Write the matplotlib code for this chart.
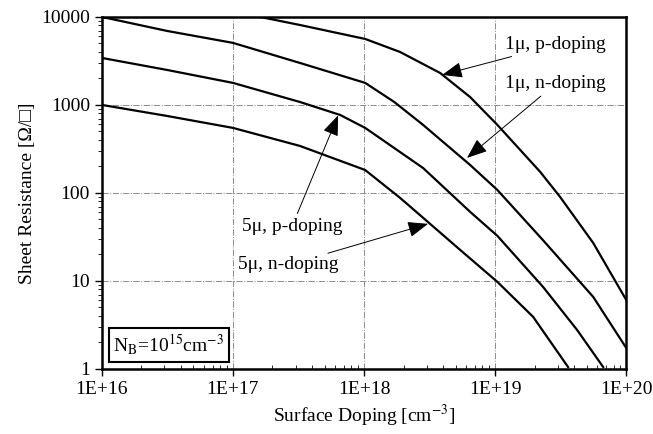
import matplotlib
matplotlib.use("Agg")
import matplotlib.pyplot as plt
from matplotlib.ticker import FixedLocator, LogLocator, NullFormatter

plt.rcParams['font.family'] = ['Liberation Serif', 'DejaVu Serif']
plt.rcParams['mathtext.fontset'] = 'stix'

# values (doping in cm^-3, resistance in ohm/sq)
p1_doping = [1.61e17, 3.24e17, 1.02e18, 1.88e18, 3.8e18, 6.44e18, 1.04e19, 2.21e19, 3.13e19, 5.6e19, 1.0e20]
p1_res = [10000, 8100, 5620, 4000, 2310, 1230, 593, 173, 90, 27, 6.08]

n1_doping = [1.0e16, 3.13e16, 1.0e17, 3.24e17, 1.02e18, 1.7e18, 2.82e18, 6.44e18, 1.04e19, 2.32e19, 5.6e19, 1.0e20]
n1_res = [10000, 6940, 5070, 3000, 1780, 1080, 593, 208, 108, 29, 6.58, 1.73]

p5_doping = [1.0e16, 3.13e16, 1.0e17, 3.24e17, 6.56e17, 1.02e18, 2.82e18, 6.44e18, 1.04e19, 2.32e19, 4.22e19, 6.67e19]
p5_res = [3420, 2500, 1780, 1080, 770, 548, 192, 61, 32.5, 8.55, 2.77, 1.05]

n5_doping = [1.0e16, 3.13e16, 1.0e17, 3.24e17, 1.02e18, 1.88e18, 2.67e18, 5.41e18, 1.04e19, 1.95e19, 3.6e19]
n5_res = [1000, 750, 548, 342, 182, 88, 56, 22.5, 9.75, 3.9, 1.05]

x_ticks = [1e16, 1e17, 1e18, 1e19, 1e20]
x_labels = ['1E+16', '1E+17', '1E+18', '1E+19', '1E+20']
y_ticks = [1, 10, 100, 1000, 10000]
y_labels = ['1', '10', '100', '1000', '10000']

fig = plt.figure(figsize=(6.53, 4.34), dpi=100)
ax = fig.add_axes([0.156, 0.150, 0.803, 0.811])

for xs, ys in [(p1_doping, p1_res), (n1_doping, n1_res), (p5_doping, p5_res), (n5_doping, n5_res)]:
    ax.plot(xs, ys, color='black', lw=1.6)

ax.set_xscale('log')
ax.set_yscale('log')
ax.set_xlim(1e16, 1e20)
ax.set_ylim(1, 10000)

ax.xaxis.set_major_locator(FixedLocator(x_ticks))
ax.set_xticklabels(x_labels)
ax.yaxis.set_major_locator(FixedLocator(y_ticks))
ax.set_yticklabels(y_labels)
ax.xaxis.set_minor_locator(LogLocator(base=10, subs=range(2, 10)))
ax.yaxis.set_minor_locator(LogLocator(base=10, subs=range(2, 10)))
ax.xaxis.set_minor_formatter(NullFormatter())
ax.yaxis.set_minor_formatter(NullFormatter())
ax.tick_params(which='major', direction='out', length=5, width=1, labelsize=14)
ax.tick_params(axis='x', which='minor', direction='in', length=3, width=0.6)
ax.tick_params(axis='y', which='minor', direction='out', length=3, width=0.6)

ax.grid(True, which='major', color='0.55', linestyle='-.', lw=0.7)
for s in ax.spines.values():
    s.set_linewidth(1.8)

ax.set_xlabel('Surface Doping [cm$^{-3}$]', fontsize=14)
ax.set_ylabel('Sheet Resistance [\u03a9/\u25a1]', fontsize=14)

arrow = dict(arrowstyle='-|>,head_length=0.9,head_width=0.35', color='black', lw=0.7, shrinkA=1, shrinkB=0)
ax.annotate('1\u03bc, p-doping', xy=(3.94e18, 2190), xytext=(1.19e19, 4810),
            fontsize=14, ha='left', va='center', arrowprops=arrow)
ax.annotate('1\u03bc, n-doping', xy=(6.1e18, 250), xytext=(1.19e19, 1730),
            fontsize=14, ha='left', va='center', arrowprops=arrow)
ax.annotate('5\u03bc, p-doping', xy=(6.34e17, 760), xytext=(1.17e17, 42),
            fontsize=14, ha='left', va='center', arrowprops=arrow)
ax.annotate('5\u03bc, n-doping', xy=(3.08e18, 44.5), xytext=(1.09e17, 15.2),
            fontsize=14, ha='left', va='center', arrowprops=arrow)

ax.text(0.022, 0.068, 'N$_\\mathrm{B}$=10$^{15}$cm$^{-3}$', transform=ax.transAxes,
        fontsize=14, ha='left', va='center',
        bbox=dict(boxstyle='square,pad=0.25', facecolor='white', edgecolor='black', lw=1.5))

fig.savefig('out.png', dpi=100)
